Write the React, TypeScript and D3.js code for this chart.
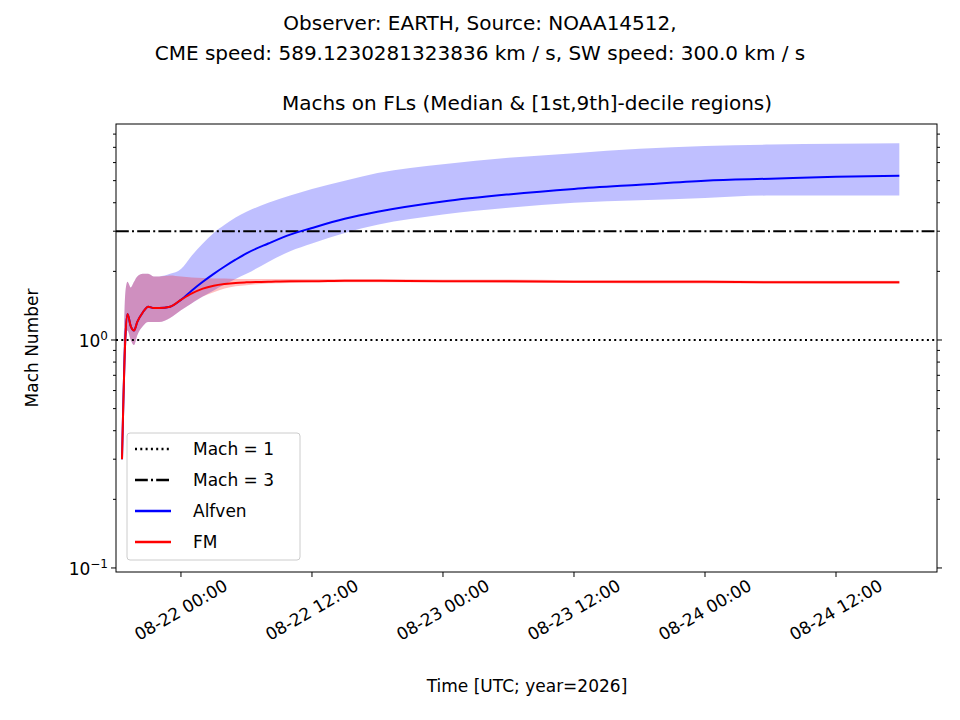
import React from "react";
import * as d3 from "d3";

const hours = [-5.4,-5.1,-4.9,-4.6,-4.3,-4.0,-3.5,-3.0,-2.5,-2.0,-1.0,0,1,2,3,4,5,6,8,10,12,15,18,24,30,36,42,48,54,60,65.8];
const alfMed = [0.3,1.0,1.3,1.15,1.1,1.2,1.32,1.4,1.38,1.38,1.4,1.5,1.65,1.8,1.95,2.1,2.25,2.4,2.65,2.9,3.1,3.4,3.65,4.05,4.35,4.6,4.8,5.0,5.1,5.2,5.25];
const alfUp = [0.3,1.6,1.8,1.7,1.8,1.9,1.95,1.95,1.9,1.9,1.95,2.05,2.35,2.65,2.95,3.2,3.45,3.65,4.0,4.3,4.6,5.0,5.4,5.9,6.3,6.6,6.9,7.1,7.2,7.25,7.3];
const alfLo = [0.3,0.9,1.1,1.0,0.95,1.05,1.15,1.2,1.2,1.2,1.25,1.35,1.45,1.55,1.65,1.75,1.85,1.95,2.2,2.45,2.65,2.95,3.2,3.55,3.8,4.0,4.1,4.2,4.3,4.3,4.3];
const fmMed = [0.3,1.0,1.3,1.15,1.1,1.2,1.32,1.4,1.38,1.38,1.4,1.5,1.6,1.68,1.73,1.76,1.78,1.79,1.8,1.81,1.81,1.82,1.82,1.81,1.81,1.8,1.8,1.8,1.79,1.79,1.79];
const fmUp = [0.3,1.6,1.8,1.7,1.8,1.9,1.95,1.95,1.9,1.9,1.92,1.9,1.88,1.87,1.86,1.86,1.85,1.85,1.85,1.85,1.85,1.85,1.85,1.84,1.84,1.83,1.83,1.83,1.82,1.82,1.82];
const fmLo = [0.3,0.9,1.1,1.0,0.95,1.05,1.15,1.2,1.2,1.2,1.25,1.35,1.45,1.55,1.62,1.68,1.72,1.74,1.77,1.78,1.79,1.79,1.79,1.79,1.78,1.78,1.77,1.77,1.77,1.76,1.76];
const xTickHours = [0, 12, 24, 36, 48, 60];
const xTickLabels = ["08-22 00:00","08-22 12:00","08-23 00:00","08-23 12:00","08-24 00:00","08-24 12:00"];

const L = 116, R = 937, T = 124, B = 572;

export default function App() {
  const x = d3.scaleLinear().domain([-5.95, 69.25]).range([L, R]);
  const y = d3.scaleLog().domain([0.096, 8.86]).range([B, T]);
  const line = (v: number[]) => d3.line<number>().x((_, i) => x(hours[i])).y(d => y(d)).curve(d3.curveMonotoneX)(v) || "";
  const band = (lo: number[], up: number[]) =>
    d3.area<number>().x((_, i) => x(hours[i])).y0((_, i) => y(lo[i])).y1(d => y(d)).curve(d3.curveMonotoneX)(up) || "";
  const minor: number[] = [];
  for (const dec of [0.01, 0.1, 1]) for (let k = 2; k <= 9; k++) { const v = k * dec; if (v > 0.096 && v < 8.86) minor.push(v); }
  const font = "DejaVu Sans, sans-serif";
  return (
    <svg width={944} height={704} style={{ display: "block", fontFamily: font }}>
      <g transform="translate(-8,-8)">
        <rect x={0} y={0} width={960} height={720} fill="white" />
        <text x={480} y={30} textAnchor="middle" fontSize={20}>Observer: EARTH, Source: NOAA14512,</text>
        <text x={480} y={60} textAnchor="middle" fontSize={20}>CME speed: 589.1230281323836 km / s, SW speed: 300.0 km / s</text>
        <text x={527} y={110} textAnchor="middle" fontSize={20}>Machs on FLs (Median &amp; [1st,9th]-decile regions)</text>
        <path d={band(alfLo, alfUp)} fill="blue" fillOpacity={0.25} />
        <path d={band(fmLo, fmUp)} fill="red" fillOpacity={0.25} />
        <line x1={L} x2={R} y1={y(1)} y2={y(1)} stroke="black" strokeWidth={2} strokeDasharray="2,3.3" />
        <line x1={L} x2={R} y1={y(3)} y2={y(3)} stroke="black" strokeWidth={2} strokeDasharray="12.8,3.2,2,3.2" />
        <path d={line(alfMed)} fill="none" stroke="blue" strokeWidth={2} />
        <path d={line(fmMed)} fill="none" stroke="red" strokeWidth={2} />
        <rect x={L} y={T} width={R - L} height={B - T} fill="none" stroke="black" strokeWidth={1} />
        {xTickHours.map((h, i) => (
          <g key={h} transform={`translate(${x(h)},${B})`}>
            <line y2={5} stroke="black" />
            <text transform="translate(0,38) rotate(-30)" textAnchor="middle" fontSize={17} dy="0.35em">{xTickLabels[i]}</text>
          </g>
        ))}
        {[0.1, 1].map(v => (
          <g key={v} transform={`translate(${L},${y(v)})`}>
            <line x2={-5} stroke="black" />
            <line x1={R - L} x2={R - L + 5} stroke="black" />
            <text x={-8} dy="0.4em" textAnchor="end" fontSize={17}>10<tspan dy="-0.55em" fontSize={12}>{v === 1 ? "0" : "−1"}</tspan></text>
          </g>
        ))}
        {minor.map(v => (
          <g key={v}>
            <line x1={L} x2={L - 3} y1={y(v)} y2={y(v)} stroke="black" />
            <line x1={R} x2={R + 3} y1={y(v)} y2={y(v)} stroke="black" />
          </g>
        ))}
        <text transform={`translate(38,${(T + B) / 2}) rotate(-90)`} textAnchor="middle" fontSize={17}>Mach Number</text>
        <text x={527} y={692} textAnchor="middle" fontSize={17}>Time [UTC; year=2026]</text>
        <g transform="translate(127,433)">
          <rect width={173} height={127} rx={3} fill="white" fillOpacity={0.8} stroke="#ccc" />
          {[
            { t: "Mach = 1", c: "black", d: "2,3.3" },
            { t: "Mach = 3", c: "black", d: "12.8,3.2,2,3.2" },
            { t: "Alfven", c: "blue", d: "" },
            { t: "FM", c: "red", d: "" },
          ].map((e, i) => (
            <g key={e.t} transform={`translate(0,${16 + i * 31})`}>
              <line x1={8} x2={44} stroke={e.c} strokeWidth={2.5} strokeDasharray={e.d} />
              <text x={66} dy="0.35em" fontSize={17}>{e.t}</text>
            </g>
          ))}
        </g>
      </g>
    </svg>
  );
}
